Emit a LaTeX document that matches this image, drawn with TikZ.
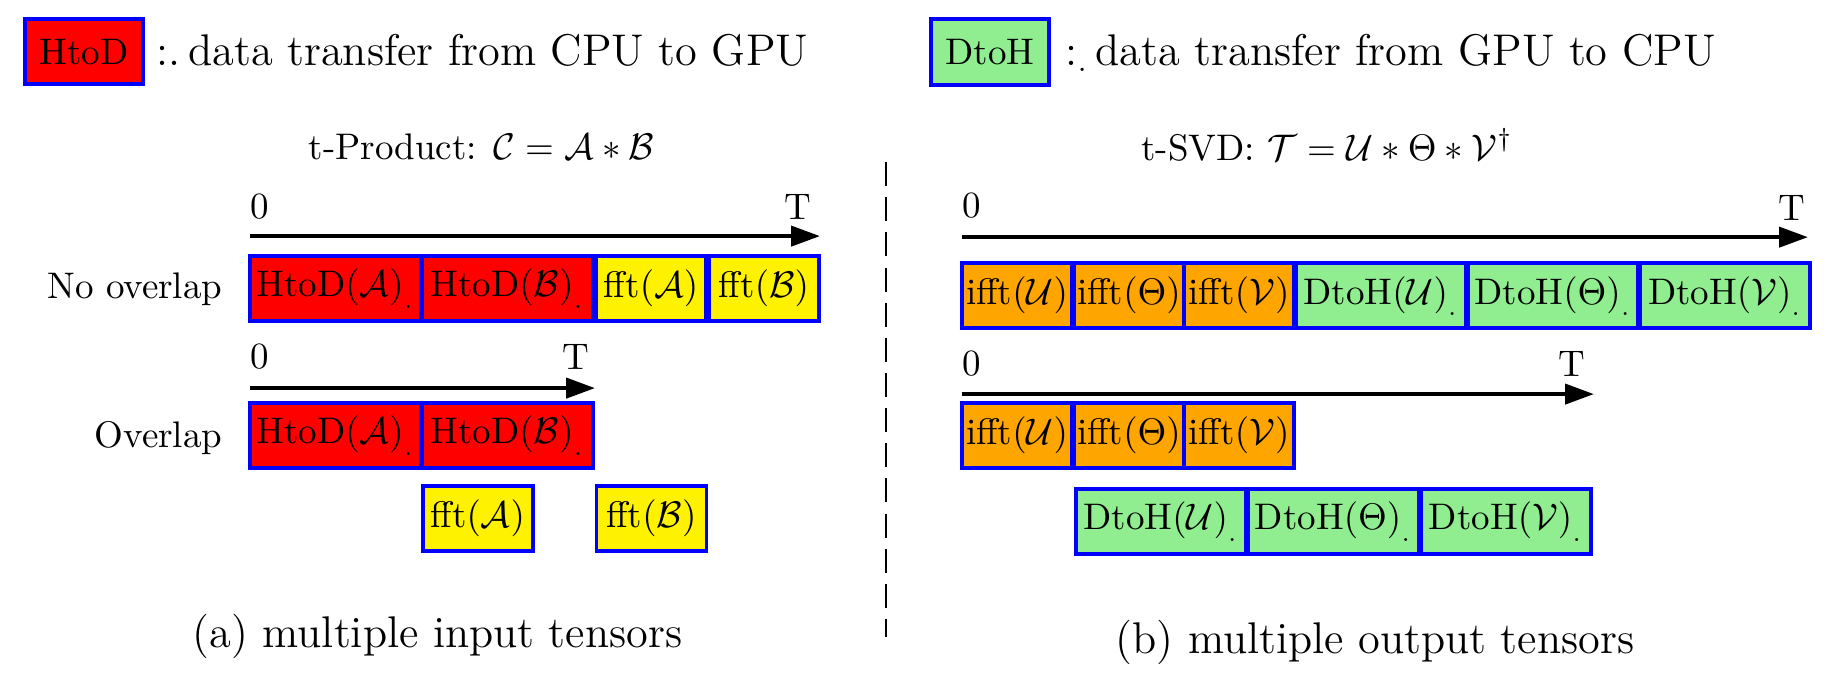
\documentclass[tikz,border=0pt]{standalone}
\usetikzlibrary{arrows.meta}
\definecolor{lightgreen}{HTML}{90EE90}
\definecolor{amber}{HTML}{FFA500}
\begin{document}
\begin{tikzpicture}[x=1cm,y=1cm,
  task/.style={draw=blue,line width=1pt,inner sep=0pt,minimum height=.618cm},
  htod/.style={task,fill=red,minimum width=1.625cm},
  dtoh/.style={task,fill=lightgreen,minimum width=1.615cm},
  fft/.style={task,fill=yellow,minimum width=1.045cm},
  ifft/.style={task,fill=amber,minimum width=1.045cm},
  timeline/.style={-{Triangle[length=7.8pt,width=5.4pt]},line width=1.1pt},
  tick/.style={inner sep=0pt},
  legendtext/.style={font=\large,anchor=base west,inner sep=0pt},
  rowname/.style={anchor=base east,inner sep=0pt}]
  \useasboundingbox (0,0) rectangle (17.49,6.49);
  % legend
  \node[task,fill=red,minimum width=1.121cm] (lh) at (.798,6.0) {HtoD};
  \node[legendtext] (lht) at (1.482,5.871) {:.\,data transfer from CPU to GPU};
  \node[task,fill=lightgreen,minimum width=1.121cm,minimum height=.627cm] (ld) at (9.405,5.995) {DtoH};
  \node[legendtext] (ldt) at (10.118,5.871) {:$_{.}$\,data transfer from GPU to CPU};
  % (a) t-product
  \node[anchor=base] (tprod) at (4.574,4.978) {t-Product: $\mathcal{C}=\mathcal{A}*\mathcal{B}$};
  \coordinate (pa0) at (2.375,4.247); \coordinate (pa1) at (7.79,4.247);
  \draw[timeline] (pa0) -- (pa1);
  \node[tick,anchor=base west] (pa0l) at (2.375,4.418) {0};
  \node[tick,anchor=base east] (pa1l) at (7.714,4.408) {T};
  \node[rowname] (noov) at (2.119,3.658) {No overlap};
  \node[htod] (a1) at (3.187,3.748) {HtoD${(\mathcal{A})}_{.}$};
  \node[htod] (b1) at (4.821,3.748) {HtoD${(\mathcal{B})}_{.}$};
  \node[fft] (fa1) at (6.185,3.748) {fft$(\mathcal{A})$};
  \node[fft] (fb1) at (7.258,3.748) {fft$(\mathcal{B})$};
  \coordinate (qa0) at (2.375,2.803); \coordinate (qa1) at (5.653,2.803);
  \draw[timeline] (qa0) -- (qa1);
  \node[tick,anchor=base west] (qa0l) at (2.375,2.993) {0};
  \node[tick,anchor=base east] (qa1l) at (5.605,2.983) {T};
  \node[rowname] (ov) at (2.119,2.242) {Overlap};
  \node[htod] (a2) at (3.187,2.351) {HtoD${(\mathcal{A})}_{.}$};
  \node[htod] (b2) at (4.821,2.351) {HtoD${(\mathcal{B})}_{.}$};
  \node[fft] (fa2) at (4.539,1.563) {fft$(\mathcal{A})$};
  \node[fft] (fb2) at (6.189,1.563) {fft$(\mathcal{B})$};
  \node[font=\large,anchor=base] (capa) at (4.156,.342) {(a) multiple input tensors};
  % divider
  \coordinate (d0) at (8.417,4.95); \coordinate (d1) at (8.417,.437);
  \draw[line width=.7pt,dash pattern=on 6.5pt off 3pt] (d0) -- (d1);
  % (b) t-SVD
  \node[anchor=base] (tsvd) at (12.607,4.969) {t-SVD: $\mathcal{T}=\mathcal{U}*\Theta*\mathcal{V}^\dagger$};
  \coordinate (pb0) at (9.139,4.237); \coordinate (pb1) at (17.176,4.237);
  \draw[timeline] (pb0) -- (pb1);
  \node[tick,anchor=base west] (pb0l) at (9.139,4.427) {0};
  \node[tick,anchor=base east] (pb1l) at (17.157,4.399) {T};
  \node[ifft] (u1) at (9.662,3.681) {ifft$(\mathcal{U})$};
  \node[ifft] (t1) at (10.726,3.681) {ifft$(\Theta)$};
  \node[ifft] (v1) at (11.771,3.681) {ifft$(\mathcal{V})$};
  \node[dtoh] (du1) at (13.12,3.681) {DtoH${(\mathcal{U})}_{.}$};
  \node[dtoh] (dt1) at (14.754,3.681) {DtoH${(\Theta)}_{.}$};
  \node[dtoh] (dv1) at (16.388,3.681) {DtoH${(\mathcal{V})}_{.}$};
  \coordinate (qb0) at (9.139,2.746); \coordinate (qb1) at (15.143,2.746);
  \draw[timeline] (qb0) -- (qb1);
  \node[tick,anchor=base west] (qb0l) at (9.139,2.926) {0};
  \node[tick,anchor=base east] (qb1l) at (15.067,2.917) {T};
  \node[ifft] (u2) at (9.662,2.351) {ifft$(\mathcal{U})$};
  \node[ifft] (t2) at (10.726,2.351) {ifft$(\Theta)$};
  \node[ifft] (v2) at (11.771,2.351) {ifft$(\mathcal{V})$};
  \node[dtoh] (du2) at (11.03,1.534) {DtoH${(\mathcal{U})}_{.}$};
  \node[dtoh] (dt2) at (12.668,1.534) {DtoH${(\Theta)}_{.}$};
  \node[dtoh] (dv2) at (14.307,1.534) {DtoH${(\mathcal{V})}_{.}$};
  \node[font=\large,anchor=base] (capb) at (13.063,.285) {(b) multiple output tensors};
\end{tikzpicture}
\end{document}
